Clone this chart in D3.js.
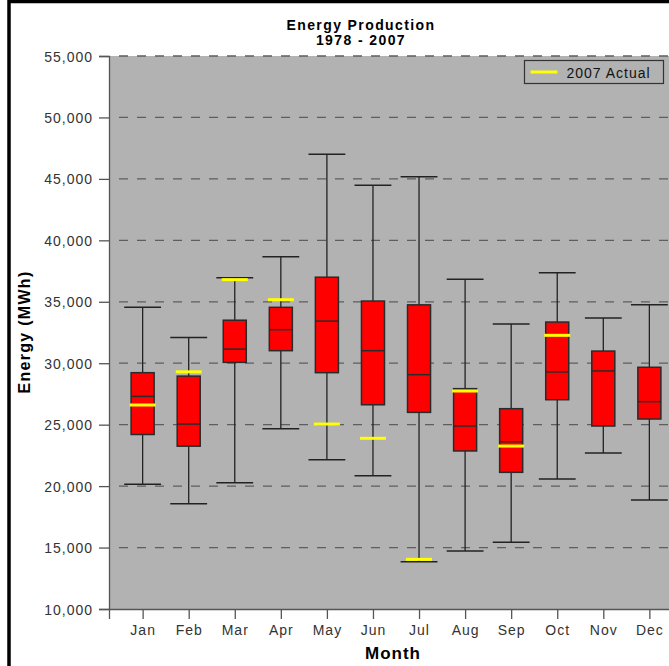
<!DOCTYPE html>
<html>
<head>
<meta charset="utf-8">
<script src="https://cdn.jsdelivr.net/npm/d3@7.9.0/dist/d3.min.js"></script>
<style>
  body { margin: 0; background: #fff; }
  svg { display: block; font-family: "Liberation Sans", Arial, sans-serif; }
</style>
</head>
<body>
<svg id="chart" width="669" height="666"></svg>
<script>
const months = ['Jan', 'Feb', 'Mar', 'Apr', 'May', 'Jun', 'Jul', 'Aug', 'Sep', 'Oct', 'Nov', 'Dec'];
const lowWhisker = [20150, 18570, 20280, 24670, 22150, 20850, 13850, 14720, 15430, 20580, 22690, 18870];
const q1 = [24200, 23250, 30070, 31020, 29230, 26620, 26000, 22860, 21120, 27030, 24890, 25460];
const median = [27300, 25050, 31150, 32730, 33430, 31020, 29070, 24890, 23610, 29290, 29370, 26870];
const q3 = [29230, 28950, 33500, 34550, 37000, 35060, 34750, 27930, 26300, 33350, 30990, 29670];
const highWhisker = [34550, 32100, 36950, 38670, 47000, 44480, 45180, 36830, 33190, 37370, 33680, 34760];
const actual2007 = [26600, 29300, 36800, 35170, 25050, 23890, 14040, 27740, 23260, 32270, null, null];
const yTicks = [10000, 15000, 20000, 25000, 30000, 35000, 40000, 45000, 50000, 55000];

const font = '"Liberation Sans", Arial, sans-serif';
const svg = d3.select('#chart');
const plotLeft = 109, plotRight = 683, plotTop = 56, plotBottom = 609;

// outer frame
svg.append('rect')
  .attr('x', 9).attr('y', 1.5)
  .attr('width', 720).attr('height', 720)
  .attr('fill', 'none').attr('stroke', '#000').attr('stroke-width', 3.5);

let x = d3.scalePoint().domain(months).range([plotLeft, plotRight]).padding(0.73);
let y = d3.scaleLinear().domain([10000, 55000]).range([plotBottom, plotTop]);
let step = x.step();

svg.append('rect')
  .attr('x', plotLeft).attr('y', plotTop)
  .attr('width', plotRight - plotLeft).attr('height', plotBottom - plotTop)
  .attr('fill', '#b2b2b2');

// dashed grid
svg.append('g')
  .selectAll('line')
  .data(yTicks.slice(1))
  .join('line')
  .attr('x1', plotLeft + 10).attr('x2', plotRight)
  .attr('y1', (d) => y(d)).attr('y2', (d) => y(d))
  .attr('stroke', '#5e5e5e').attr('stroke-width', 1.3)
  .attr('stroke-dasharray', '9,9');

// axes
let yAxis = svg.append('g')
  .attr('transform', `translate(${plotLeft},0)`)
  .call(d3.axisLeft(y).tickValues(yTicks).tickFormat(d3.format(',')).tickSize(10).tickPadding(6));
let xAxis = svg.append('g')
  .attr('transform', `translate(0,${plotBottom})`)
  .call(d3.axisBottom(x).tickSize(10).tickPadding(6));

[yAxis, xAxis].forEach((g) => {
  g.select('.domain').attr('stroke', '#555').attr('stroke-width', 1.3);
  g.selectAll('.tick line').attr('stroke', '#555').attr('stroke-width', 1.3);
  g.selectAll('.tick text')
    .attr('fill', '#333').attr('font-size', 14)
    .attr('font-family', font)
    .attr('letter-spacing', 1);
});
yAxis.selectAll('.tick text').attr('dy', '0.36em');

// boxes
let boxes = months.map((m, i) => ({
  month: m, lo: lowWhisker[i], q1: q1[i], med: median[i], q3: q3[i], hi: highWhisker[i], act: actual2007[i]
}));
let boxW = step * 0.5, capW = step * 0.8;
let g = svg.append('g');

boxes.forEach((d) => {
  let cx = x(d.month);
  g.append('line')
    .attr('x1', cx).attr('x2', cx).attr('y1', y(d.lo)).attr('y2', y(d.hi))
    .attr('stroke', '#222').attr('stroke-width', 1.3);
  [d.lo, d.hi].forEach((v) => {
    g.append('line')
      .attr('x1', cx - capW / 2).attr('x2', cx + capW / 2)
      .attr('y1', y(v)).attr('y2', y(v))
      .attr('stroke', '#222').attr('stroke-width', 1.5);
  });
  g.append('rect')
    .attr('x', cx - boxW / 2).attr('y', y(d.q3))
    .attr('width', boxW).attr('height', y(d.q1) - y(d.q3))
    .attr('fill', '#ff0000').attr('stroke', '#2a2a2a').attr('stroke-width', 1.5);
  g.append('line')
    .attr('x1', cx - boxW / 2).attr('x2', cx + boxW / 2)
    .attr('y1', y(d.med)).attr('y2', y(d.med))
    .attr('stroke', '#2a2a2a').attr('stroke-width', 1.5);
  if (d.act !== null) {
    g.append('line')
      .attr('x1', cx - 13).attr('x2', cx + 13)
      .attr('y1', y(d.act)).attr('y2', y(d.act))
      .attr('stroke', '#ffff00').attr('stroke-width', 3);
  }
});

// legend
let legend = svg.append('g').attr('transform', 'translate(524.5,60.5)');
legend.append('rect')
  .attr('width', 139).attr('height', 23)
  .attr('fill', 'none').attr('stroke', '#333').attr('stroke-width', 1.2);
legend.append('line')
  .attr('x1', 6).attr('x2', 33).attr('y1', 11.5).attr('y2', 11.5)
  .attr('stroke', '#ffff00').attr('stroke-width', 3);
legend.append('text')
  .attr('x', 42).attr('y', 17)
  .attr('font-size', 14).attr('letter-spacing', 1).attr('fill', '#111')
  .text('2007 Actual');

// titles
svg.append('text')
  .attr('x', 361).attr('y', 30).attr('text-anchor', 'middle')
  .attr('font-size', 14).attr('font-weight', 'bold').attr('letter-spacing', 1.4)
  .text('Energy Production');
svg.append('text')
  .attr('x', 361).attr('y', 45).attr('text-anchor', 'middle')
  .attr('font-size', 14).attr('font-weight', 'bold').attr('letter-spacing', 1.4)
  .text('1978 - 2007');
svg.append('text')
  .attr('x', 393).attr('y', 659).attr('text-anchor', 'middle')
  .attr('font-size', 17).attr('font-weight', 'bold').attr('letter-spacing', 1)
  .text('Month');
svg.append('text')
  .attr('transform', 'translate(30,332) rotate(-90)')
  .attr('text-anchor', 'middle')
  .attr('font-size', 16).attr('font-weight', 'bold').attr('letter-spacing', 1.3)
  .text('Energy (MWh)');
</script>
</body>
</html>
